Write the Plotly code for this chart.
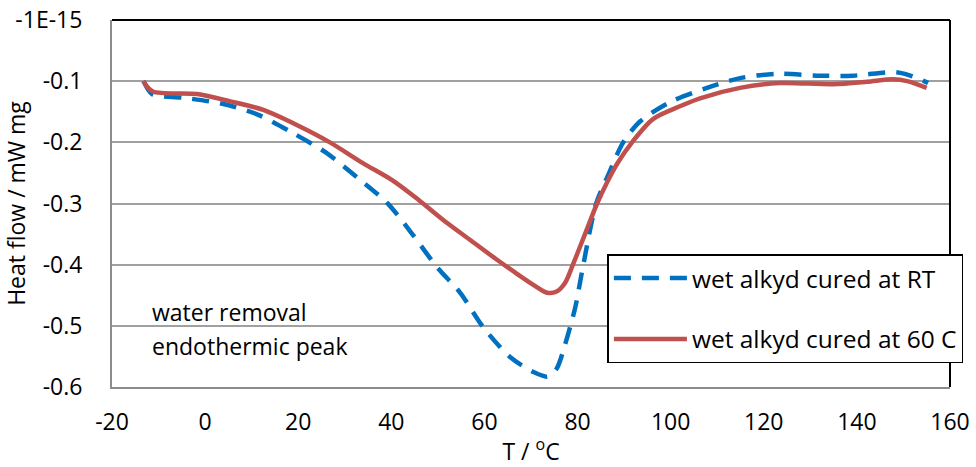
import plotly.graph_objects as go

# temperature (°C) and heat flow (mW/mg)
temp_rt = [-13.2, -11.4, -4.7, 3.7, 11.4, 18.9, 26.2, 32.6, 39.1, 44.5, 49.8, 54.8,
           59.7, 65.5, 70.4, 73.5, 75.5, 77.3, 79.5, 81.0, 84.0, 86.5, 89.8, 93.4,
           99.9, 107.8, 114.9, 122.8, 131.4, 139.2, 147.8, 150.3, 154.2, 155.3]
heat_rt = [-0.100, -0.121, -0.127, -0.137, -0.155, -0.185, -0.218, -0.257, -0.299, -0.350,
           -0.404, -0.446, -0.502, -0.551, -0.575, -0.583, -0.570, -0.531, -0.470, -0.410,
           -0.300, -0.255, -0.200, -0.166, -0.134, -0.111, -0.095, -0.088, -0.091, -0.091,
           -0.085, -0.088, -0.099, -0.103]

temp_60 = [-13.3, -11.2, -1.7, 5.4, 12.5, 19.8, 26.8, 33.9, 40.4, 46, 52, 57, 62.7, 67,
           70.5, 73.5, 75.5, 77.3, 79.0, 81.6, 84.2, 86.3, 88.5, 91.7, 96.2, 102.0, 106.3,
           114.9, 123.5, 134.9, 142.2, 147.8, 150.8, 155]
heat_60 = [-0.100, -0.117, -0.121, -0.133, -0.147, -0.172, -0.200, -0.234, -0.263, -0.295,
           -0.332, -0.360, -0.392, -0.415, -0.433, -0.446, -0.444, -0.430, -0.400, -0.350,
           -0.300, -0.266, -0.235, -0.200, -0.162, -0.141, -0.128, -0.111, -0.103, -0.105,
           -0.101, -0.097, -0.100, -0.111]

x_ticks = [-20, 0, 20, 40, 60, 80, 100, 120, 140, 160]
x_tick_text = ["-20", "0", "20", "40", "60", "80", "100", "120", "140", "160"]
y_ticks = [0, -0.1, -0.2, -0.3, -0.4, -0.5, -0.6]
y_tick_text = ["-1E-15", "-0.1", "-0.2", "-0.3", "-0.4", "-0.5", "-0.6"]

FONT = "Open Sans"

fig = go.Figure()

fig.add_trace(go.Scatter(
    x=temp_rt, y=heat_rt, mode="lines", name="wet alkyd cured at RT",
    line=dict(color="#0070C0", width=4.5, dash="17px,11px", shape="spline", smoothing=0.8),
    legendgroup="rt",
))
fig.add_trace(go.Scatter(
    x=temp_60, y=heat_60, mode="lines", name="wet alkyd cured at 60 C",
    line=dict(color="#C0504D", width=4.5, shape="spline", smoothing=0.8),
    legendgroup="c60",
))

# texte dans le graphique
fig.add_annotation(x=-11.8, y=-0.477, text="water removal", showarrow=False,
                   xanchor="left", yanchor="middle", font=dict(size=23, color="black", family=FONT))
fig.add_annotation(x=-11.8, y=-0.533, text="endothermic peak", showarrow=False,
                   xanchor="left", yanchor="middle", font=dict(size=23, color="black", family=FONT))

# bordure haute et droite en noir
fig.add_shape(type="line", xref="paper", yref="paper", x0=0, x1=1, y0=1, y1=1,
              line=dict(color="black", width=2), layer="above")
fig.add_shape(type="line", xref="paper", yref="paper", x0=1, x1=1, y0=0, y1=1,
              line=dict(color="black", width=2), layer="above")

fig.update_layout(
    width=976, height=467,
    margin=dict(l=112, r=26, t=20, b=80),
    plot_bgcolor="white", paper_bgcolor="white",
    font=dict(family=FONT, size=23, color="black"),
    legend=dict(
        # ancré à droite, juste assez pour ne pas élargir la marge
        x=1.016, y=0.362, xanchor="right", yanchor="top",
        bgcolor="white", bordercolor="black", borderwidth=1.5,
        font=dict(size=24.5, family=FONT, color="black"),
        traceorder="grouped", tracegroupgap=26, itemwidth=73,
    ),
    xaxis=dict(
        range=[-20, 160], tickvals=x_ticks, ticktext=x_tick_text, showgrid=False, zeroline=False,
        showline=True, linecolor="#8C8C8C", linewidth=2, automargin=False,
        ticks="outside", ticklen=13, tickcolor="rgba(0,0,0,0)",
        tickfont=dict(size=23), title=dict(text="T / <sup>o</sup>C", standoff=10, font=dict(size=23)),
    ),
    yaxis=dict(
        range=[-0.6, 0], tickvals=y_ticks, ticktext=y_tick_text, ticklabeloverflow="allow",
        showgrid=True, gridcolor="#A0A0A0", gridwidth=1.5, zeroline=False,
        showline=True, linecolor="#8C8C8C", linewidth=2, automargin=False,
        ticks="outside", ticklen=23, tickcolor="rgba(0,0,0,0)",
        tickfont=dict(size=23), title=dict(text="Heat flow / mW mg", standoff=18, font=dict(size=23)),
    ),
)

# pas de marge autour du graphique dans la page
fig.write_html("out.html", config={"displayModeBar": False},
               post_script="document.body.style.margin='0';")
